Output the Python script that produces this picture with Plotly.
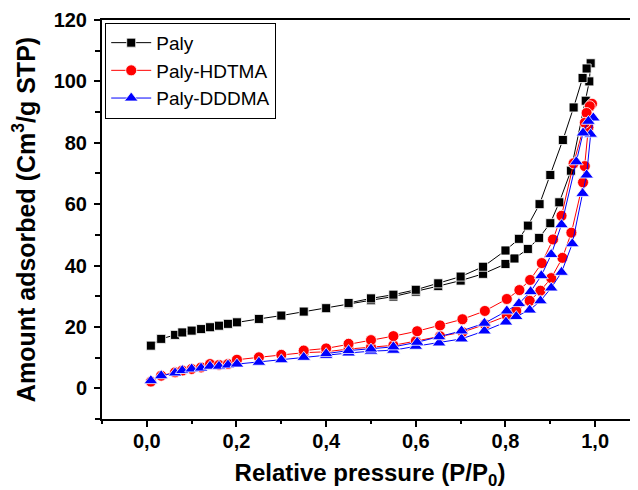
import plotly.graph_objects as go

# ---- data ----
paly_ads_x = [0.009, 0.032, 0.063, 0.079, 0.100, 0.121, 0.141, 0.161, 0.181, 0.201, 0.25, 0.30, 0.35, 0.40, 0.45,
              0.50, 0.55, 0.60, 0.65, 0.70, 0.75, 0.80, 0.82, 0.85, 0.875, 0.90, 0.92, 0.946, 0.979, 0.987, 0.99]
paly_ads_y = [13.9, 16.1, 17.4, 18.2, 18.8, 19.3, 19.9, 20.4, 21.0, 21.5, 22.6, 23.7, 25.0, 26.1, 27.5,
              28.7, 29.9, 31.5, 33.3, 35.1, 37.3, 40.5, 42.3, 45.4, 49.0, 53.8, 60.6, 70.9, 93.7, 100.0, 105.9]
paly_des_x = [0.981, 0.972, 0.952, 0.928, 0.90, 0.876, 0.85, 0.83, 0.80, 0.75, 0.70, 0.65, 0.60, 0.55, 0.50, 0.45]
paly_des_y = [104.2, 101.1, 91.5, 80.9, 69.5, 60.0, 53.0, 48.7, 44.9, 39.6, 36.4, 34.2, 32.1, 30.5, 29.3, 27.8]

hdtma_ads_x = [0.009, 0.032, 0.063, 0.079, 0.100, 0.121, 0.141, 0.161, 0.181, 0.201, 0.25, 0.30, 0.35, 0.40, 0.45,
               0.50, 0.55, 0.60, 0.654, 0.704, 0.754, 0.803, 0.824, 0.854, 0.878, 0.902, 0.927, 0.947, 0.973, 0.977,
               0.985, 0.993]
hdtma_ads_y = [2.2, 4.1, 5.2, 5.8, 6.3, 6.8, 7.9, 7.6, 7.9, 9.3, 10.1, 10.9, 11.6, 11.9, 12.8,
               13.4, 14.0, 15.4, 17.0, 18.3, 20.8, 23.6, 25.2, 28.5, 31.8, 35.9, 42.5, 50.7, 67.1, 72.4,
               85.0, 92.7]
hdtma_des_x = [0.988, 0.981, 0.977, 0.952, 0.925, 0.906, 0.881, 0.855, 0.831, 0.803, 0.754, 0.704, 0.654, 0.603,
               0.55, 0.50, 0.45, 0.40, 0.35]
hdtma_des_y = [91.9, 89.7, 86.5, 73.3, 56.2, 48.5, 40.8, 35.3, 32.0, 29.1, 25.2, 22.5, 20.5, 18.6,
               17.0, 15.7, 14.5, 13.0, 12.3]

dddma_ads_x = [0.009, 0.032, 0.063, 0.079, 0.100, 0.121, 0.141, 0.161, 0.181, 0.201, 0.25, 0.30, 0.35, 0.40, 0.45,
               0.50, 0.55, 0.60, 0.652, 0.702, 0.753, 0.801, 0.824, 0.854, 0.878, 0.902, 0.925, 0.949, 0.972, 0.981,
               0.99, 0.996]
dddma_ads_y = [2.5, 4.1, 5.0, 5.8, 6.3, 6.6, 7.2, 7.2, 7.6, 7.9, 8.5, 9.3, 10.1, 10.7, 11.5,
               12.1, 12.4, 13.7, 14.8, 16.1, 18.7, 21.6, 23.4, 25.5, 28.5, 32.7, 37.8, 47.1, 63.5, 69.5,
               82.8, 88.1]
dddma_des_x = [0.985, 0.973, 0.958, 0.925, 0.902, 0.88, 0.856, 0.83, 0.803, 0.753, 0.702, 0.652, 0.603,
               0.55, 0.50, 0.45, 0.40]
dddma_des_y = [87.0, 83.2, 73.8, 53.3, 43.6, 36.7, 31.5, 27.6, 25.2, 21.2, 18.7, 16.8, 15.0,
               13.5, 12.8, 12.3, 11.3]

series_names = ["Paly", "Paly-HDTMA", "Paly-DDDMA"]

x_tickvals = [0.0, 0.2, 0.4, 0.6, 0.8, 1.0]
x_ticktext = ["0,0", "0,2", "0,4", "0,6", "0,8", "1,0"]
y_tickvals = [0, 20, 40, 60, 80, 100, 120]

# ---- figure ----
FONT = "Arial, Liberation Sans, sans-serif"
fig = go.Figure()

styles = [
    dict(color="#000000", symbol="square", size=9),
    dict(color="#ff0000", symbol="circle", size=11),
    dict(color="#0000ff", symbol="triangle-up", size=12),
]
data = [
    (paly_ads_x + paly_des_x, paly_ads_y + paly_des_y),
    (hdtma_ads_x + hdtma_des_x, hdtma_ads_y + hdtma_des_y),
    (dddma_ads_x + dddma_des_x, dddma_ads_y + dddma_des_y),
]
for name, (xs, ys), st in zip(series_names, data, styles):
    fig.add_trace(go.Scatter(
        x=xs, y=ys, name=name, mode="lines+markers",
        line=dict(color=st["color"], width=1),
        marker=dict(color=st["color"], symbol=st["symbol"], size=st["size"],
                    line=dict(color="white", width=0.8)),
    ))

# page body has an 8px default margin, so the figure is 8px smaller than the window
fig.update_layout(
    width=630, height=482,
    margin=dict(l=94, r=0, t=12, b=71, autoexpand=False),
    paper_bgcolor="white", plot_bgcolor="white",
    font=dict(family=FONT, color="black"),
    showlegend=True,
    legend=dict(
        x=0.006, y=0.993, xanchor="left", yanchor="top",
        bgcolor="white", bordercolor="black", borderwidth=1,
        font=dict(family=FONT, size=19, color="black"),
        tracegroupgap=0, itemwidth=40,
    ),
    xaxis=dict(
        range=[-0.1, 1.0956], automargin=False,
        tickvals=x_tickvals, ticktext=x_ticktext,
        ticks="outside", ticklen=6, tickwidth=1.5, tickcolor="black",
        minor=dict(dtick=0.1, ticks="outside", ticklen=3, tickwidth=1.5, tickcolor="black", showgrid=False),
        showline=True, linecolor="black", linewidth=2, mirror=True,
        showgrid=False, zeroline=False,
        tickfont=dict(family=FONT, size=20, weight="bold"),
        ticklabelstandoff=-3,
        title=dict(text="Relative pressure (P/P<sub>0</sub>)",
                   font=dict(family=FONT, size=24, weight="bold"), standoff=16),
    ),
    yaxis=dict(
        range=[-10, 120], automargin=False,
        tickvals=y_tickvals,
        ticks="outside", ticklen=6, tickwidth=1.5, tickcolor="black",
        minor=dict(dtick=10, ticks="outside", ticklen=5, tickwidth=1.5, tickcolor="black", showgrid=False),
        showline=True, linecolor="black", linewidth=2, mirror=False,
        showgrid=False, zeroline=False,
        tickfont=dict(family=FONT, size=20, weight="bold"),
        ticklabelstandoff=3,
        title=dict(text="Amount adsorbed (Cm<sup>3</sup>/g STP)",
                   font=dict(family=FONT, size=25, weight="bold"), standoff=12),
    ),
)

fig.write_html("out.html")
